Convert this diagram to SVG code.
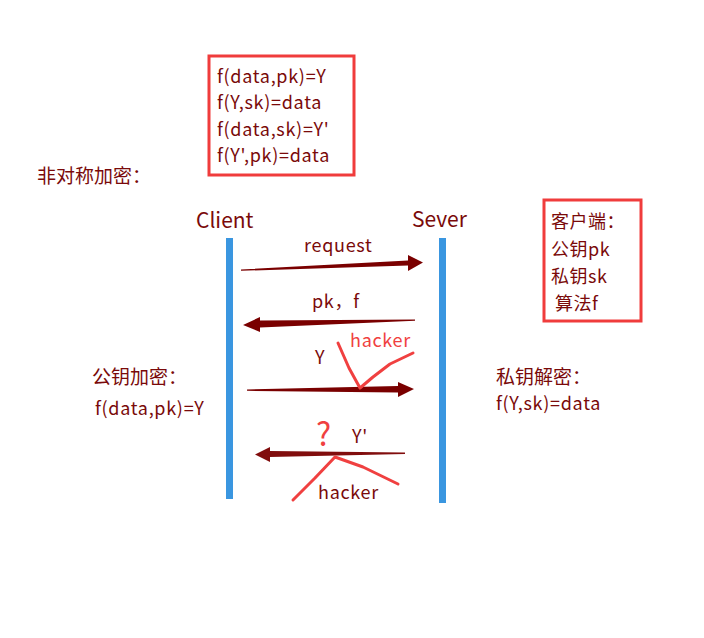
<svg xmlns="http://www.w3.org/2000/svg" width="704" height="638" viewBox="0 0 704 638">
<style>
text{font-family:"Noto Sans CJK SC","Noto Sans",sans-serif;fill:#7a0a0a;font-size:18px;letter-spacing:0.7px}
.cn{font-size:19px;letter-spacing:0}
.k{font-size:18px;letter-spacing:0.5px}
.big{font-size:21px;letter-spacing:0}
.red{fill:#f04040}
.box{fill:none;stroke:#f03c3c;stroke-width:3}
.bar{fill:#3a96e0}
.arr{fill:#7a0000}
.scr{fill:none;stroke:#f04040;stroke-width:3;stroke-linecap:round;stroke-linejoin:round}
</style>
<rect width="704" height="638" fill="#fff"/>
<g id="formulas">
<rect class="box" x="209" y="56" width="145" height="119"/>
<text x="217" y="83">f(data,pk)=Y</text>
<text x="217" y="109">f(Y,sk)=data</text>
<text x="217" y="136">f(data,sk)=Y'</text>
<text x="217" y="162">f(Y',pk)=data</text>
</g>
<g id="title"><text class="cn" x="37" y="183">非对称加密：</text></g>
<g id="keys">
<rect class="box" x="544" y="200" width="97" height="121"/>
<text class="k" x="551" y="228">客户端：</text>
<text class="k" x="551" y="256">公钥pk</text>
<text class="k" x="551" y="283">私钥sk</text>
<text class="k" x="555" y="310">算法f</text>
</g>
<g id="client">
<text class="big" x="196" y="228">Client</text>
<rect class="bar" x="226" y="238" width="7" height="261"/>
</g>
<g id="server">
<text class="big" x="412" y="227">Sever</text>
<rect class="bar" x="439" y="238" width="7" height="265"/>
</g>
<g id="enc"><text class="cn" x="92" y="384">公钥加密：</text><text x="95" y="415">f(data,pk)=Y</text></g>
<g id="dec"><text class="cn" x="496" y="384">私钥解密：</text><text x="496" y="410">f(Y,sk)=data</text></g>
<g id="connectors">
<polygon class="arr" points="241,269.5 408,260.5 408,255 423,262.5 408,271 408,265.5 241,270.8"/>
<polygon class="arr" points="415,319.5 260,320.5 260,317 243,325 260,332 260,327.5 415,320.8"/>
<polygon class="arr" points="247,389.5 398,386 398,382 414,389 398,397 398,392.5 247,390.8"/>
<polygon class="arr" points="405,452.5 270,451 270,447 255,454.5 270,462 270,457 405,454" opacity="0.95"/>
</g>
<g id="labels">
<text x="304" y="252">request</text>
<text x="312" y="308">pk，f</text>
<text x="315" y="364">Y</text>
<text class="red" x="350" y="347">hacker</text>
<text x="352" y="443">Y'</text>
<text x="318" y="499">hacker</text>
<text class="red" x="316" y="446" style="font-size:32px">?</text>
</g>
<g id="scribbles">
<polyline class="scr" points="338,343 349,368 360,388 373,377 390,364 413,353"/>
<polyline class="scr" points="293,500 315,478 335,457 363,467 398,484"/>
</g>
</svg>
